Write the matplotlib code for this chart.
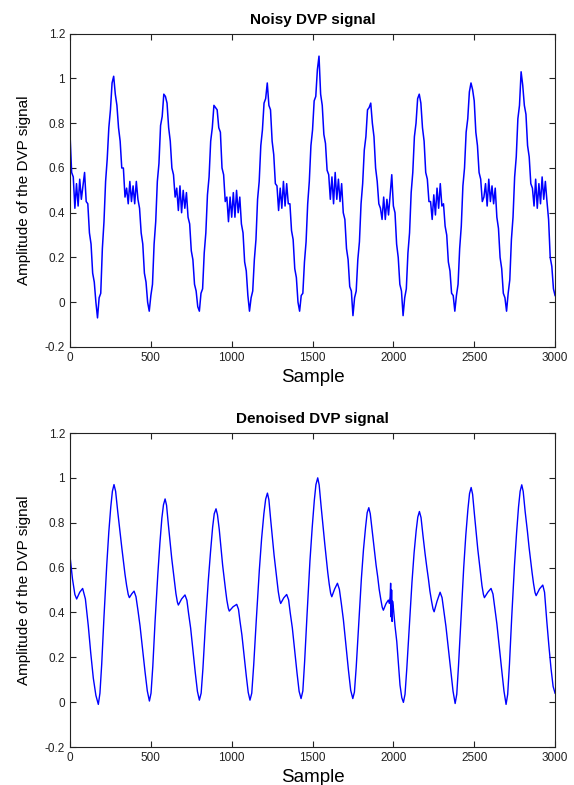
"""Noisy vs denoised DVP signal, two stacked panels."""

import matplotlib

matplotlib.use("Agg")
import matplotlib.pyplot as plt
import numpy as np

plt.rcParams["font.family"] = ["Liberation Sans", "DejaVu Sans"]

# noisy trace, read every 10 samples
noisy_sample = np.arange(0, 3001, 10)
noisy_amp = [
    0.75, 0.58, 0.56, 0.42, 0.53, 0.43, 0.55, 0.46, 0.52, 0.58,    # 0
    0.45, 0.44, 0.31, 0.26, 0.13, 0.09, 0.00, -0.07, 0.02, 0.04,   # 100
    0.24, 0.36, 0.54, 0.64, 0.78, 0.86, 0.98, 1.01, 0.93, 0.88,    # 200
    0.78, 0.72, 0.60, 0.60, 0.47, 0.51, 0.44, 0.54, 0.45, 0.52,    # 300
    0.44, 0.54, 0.46, 0.42, 0.31, 0.26, 0.13, 0.09, 0.00, -0.04,   # 400
    0.03, 0.08, 0.26, 0.36, 0.54, 0.62, 0.79, 0.83, 0.93, 0.92,    # 500
    0.89, 0.78, 0.72, 0.60, 0.57, 0.47, 0.51, 0.41, 0.52, 0.40,    # 600
    0.50, 0.42, 0.49, 0.38, 0.35, 0.23, 0.19, 0.08, 0.05, -0.02,   # 700
    -0.04, 0.04, 0.06, 0.22, 0.31, 0.48, 0.56, 0.72, 0.78, 0.88,   # 800
    0.87, 0.86, 0.78, 0.76, 0.60, 0.57, 0.45, 0.47, 0.36, 0.47,    # 900
    0.38, 0.49, 0.38, 0.50, 0.40, 0.47, 0.35, 0.31, 0.18, 0.14,    # 1000
    0.03, -0.04, 0.02, 0.05, 0.19, 0.28, 0.46, 0.54, 0.70, 0.77,   # 1100
    0.89, 0.91, 0.98, 0.88, 0.86, 0.72, 0.66, 0.53, 0.52, 0.41,    # 1200
    0.51, 0.42, 0.54, 0.43, 0.53, 0.44, 0.44, 0.32, 0.28, 0.15,    # 1300
    0.11, 0.00, -0.04, 0.03, 0.04, 0.18, 0.27, 0.44, 0.54, 0.70,   # 1400
    0.77, 0.90, 0.92, 1.04, 1.10, 0.93, 0.88, 0.75, 0.71, 0.59,    # 1500
    0.57, 0.46, 0.56, 0.44, 0.58, 0.46, 0.55, 0.45, 0.53, 0.40,    # 1600
    0.37, 0.24, 0.19, 0.07, 0.05, -0.06, 0.02, 0.05, 0.19, 0.27,   # 1700
    0.44, 0.53, 0.68, 0.74, 0.86, 0.87, 0.89, 0.80, 0.74, 0.60,    # 1800
    0.54, 0.44, 0.42, 0.37, 0.47, 0.37, 0.46, 0.39, 0.48, 0.57,    # 1900
    0.43, 0.40, 0.26, 0.20, 0.08, 0.05, -0.06, 0.02, 0.06, 0.22,   # 2000
    0.31, 0.49, 0.58, 0.74, 0.80, 0.91, 0.93, 0.89, 0.78, 0.72,    # 2100
    0.58, 0.55, 0.45, 0.45, 0.37, 0.48, 0.39, 0.51, 0.42, 0.53,    # 2200
    0.43, 0.44, 0.34, 0.30, 0.18, 0.14, 0.04, 0.03, -0.04, 0.03,   # 2300
    0.08, 0.24, 0.34, 0.52, 0.60, 0.76, 0.82, 0.94, 0.98, 0.95,    # 2400
    0.90, 0.76, 0.70, 0.58, 0.55, 0.45, 0.47, 0.53, 0.43, 0.55,    # 2500
    0.45, 0.52, 0.44, 0.51, 0.38, 0.33, 0.20, 0.15, 0.04, 0.02,    # 2600
    -0.04, 0.04, 0.10, 0.28, 0.38, 0.56, 0.65, 0.82, 0.88, 1.03,   # 2700
    0.97, 0.88, 0.84, 0.70, 0.65, 0.53, 0.51, 0.43, 0.55, 0.42,    # 2800
    0.53, 0.44, 0.56, 0.46, 0.54, 0.45, 0.37, 0.20, 0.16, 0.06,    # 2900
    0.03,                                                          # 3000
]

# denoised trace, (sample, amplitude)
denoised_points = [
    (0, 0.65), (15, 0.55), (30, 0.48), (41, 0.46), (60, 0.49), (78, 0.507),
    (95, 0.46), (113, 0.34), (128, 0.22), (144, 0.107), (160, 0.03),
    (175, -0.01), (185, 0.04), (196, 0.17), (210, 0.38), (227, 0.61),
    (240, 0.76), (252, 0.87), (262, 0.94), (272, 0.97), (282, 0.94),
    (295, 0.85), (309, 0.76), (320, 0.69), (330, 0.63), (340, 0.57),
    (350, 0.52), (360, 0.48), (367, 0.466), (382, 0.483), (396, 0.495),
    (408, 0.47), (420, 0.41), (433, 0.34), (448, 0.24), (464, 0.135),
    (478, 0.05),
    (491, 0.005), (501, 0.04), (512, 0.16), (526, 0.36), (543, 0.57),
    (556, 0.71), (568, 0.82), (578, 0.88), (588, 0.906), (597, 0.878),
    (608, 0.793), (620, 0.707), (629, 0.641), (638, 0.587), (647, 0.53),
    (655, 0.484), (664, 0.446), (670, 0.433), (690, 0.46), (711, 0.478),
    (723, 0.454), (733, 0.397), (746, 0.33), (760, 0.232), (775, 0.129),
    (788, 0.048),
    (800, 0.009), (811, 0.04), (822, 0.15), (837, 0.34), (855, 0.54),
    (869, 0.67), (882, 0.78), (892, 0.84), (903, 0.862), (912, 0.835),
    (923, 0.77), (935, 0.68), (944, 0.61), (953, 0.554), (962, 0.50),
    (970, 0.455), (979, 0.419), (985, 0.406), (1008, 0.425), (1031, 0.436),
    (1042, 0.414), (1051, 0.362), (1063, 0.30), (1076, 0.211), (1090, 0.118),
    (1102, 0.044),
    (1113, 0.009), (1124, 0.04), (1136, 0.165), (1152, 0.365), (1171, 0.59),
    (1185, 0.73), (1199, 0.84), (1210, 0.905), (1221, 0.932), (1230, 0.902),
    (1241, 0.814), (1253, 0.725), (1262, 0.656), (1271, 0.60), (1280, 0.541),
    (1288, 0.493), (1297, 0.454), (1303, 0.44), (1322, 0.465), (1340, 0.48),
    (1352, 0.456), (1362, 0.398), (1375, 0.331), (1389, 0.233), (1404, 0.13),
    (1417, 0.048),
    (1429, 0.016), (1440, 0.05), (1451, 0.18), (1466, 0.39), (1484, 0.63),
    (1498, 0.78), (1511, 0.90), (1521, 0.97), (1532, 1.0), (1541, 0.968),
    (1553, 0.873), (1566, 0.777), (1576, 0.703), (1585, 0.642), (1594, 0.579),
    (1603, 0.527), (1612, 0.485), (1619, 0.47), (1637, 0.505), (1654, 0.53),
    (1666, 0.503), (1678, 0.44), (1691, 0.366), (1706, 0.257), (1722, 0.143),
    (1736, 0.053),
    (1749, 0.016), (1759, 0.045), (1770, 0.155), (1785, 0.34), (1802, 0.55),
    (1815, 0.68), (1828, 0.78), (1838, 0.845), (1848, 0.867), (1857, 0.84),
    (1870, 0.757), (1883, 0.675), (1893, 0.611), (1903, 0.559), (1912, 0.504),
    (1922, 0.459), (1931, 0.423), (1938, 0.41), (1955, 0.44), (1969, 0.455),
    (1975, 0.44), (1980, 0.47), (1983, 0.53), (1986, 0.38), (1989, 0.50),
    (1992, 0.36), (1995, 0.45), (2000, 0.42), (2010, 0.34), (2021, 0.27),
    (2031, 0.17), (2041, 0.076), (2052, 0.02),
    (2062, -0.001), (2072, 0.035), (2083, 0.15), (2098, 0.33), (2115, 0.535),
    (2128, 0.665), (2141, 0.765), (2151, 0.825), (2161, 0.85), (2171, 0.823),
    (2183, 0.743), (2196, 0.662), (2207, 0.60), (2217, 0.548), (2226, 0.495),
    (2236, 0.451), (2245, 0.416), (2252, 0.403), (2270, 0.45), (2289, 0.49),
    (2301, 0.466), (2312, 0.407), (2325, 0.338), (2340, 0.238), (2356, 0.132),
    (2369, 0.049),
    (2382, -0.006), (2392, 0.035), (2403, 0.165), (2418, 0.37), (2435, 0.60),
    (2448, 0.745), (2461, 0.86), (2471, 0.93), (2481, 0.957), (2490, 0.927),
    (2501, 0.84), (2513, 0.751), (2522, 0.682), (2531, 0.626), (2540, 0.567),
    (2548, 0.519), (2557, 0.48), (2563, 0.466), (2584, 0.49), (2604, 0.507),
    (2616, 0.482), (2627, 0.42), (2640, 0.35), (2655, 0.246), (2671, 0.137),
    (2684, 0.05),
    (2697, -0.01), (2707, 0.035), (2718, 0.17), (2732, 0.38), (2749, 0.61),
    (2762, 0.755), (2774, 0.87), (2784, 0.94), (2794, 0.969), (2803, 0.939),
    (2815, 0.85), (2829, 0.762), (2839, 0.692), (2848, 0.636), (2858, 0.577),
    (2867, 0.528), (2876, 0.489), (2883, 0.475), (2904, 0.505), (2924, 0.522),
    (2935, 0.49), (2949, 0.36), (2962, 0.25), (2975, 0.15), (2988, 0.07),
    (3000, 0.04),
]

titles = ["Noisy DVP signal", "Denoised DVP signal"]
x_ticks = [0, 500, 1000, 1500, 2000, 2500, 3000]
y_ticks = [-0.2, 0, 0.2, 0.4, 0.6, 0.8, 1, 1.2]
y_tick_labels = ["-0.2", "0", "0.2", "0.4", "0.6", "0.8", "1", "1.2"]


def style_axes(ax, title):
    ax.set_xlim(0, 3000)
    ax.set_ylim(-0.2, 1.2)
    ax.set_xticks(x_ticks)
    ax.set_xticklabels([str(t) for t in x_ticks])
    ax.set_yticks(y_ticks)
    ax.set_yticklabels(y_tick_labels)
    ax.tick_params(direction="in", length=4, width=0.8, top=True, right=True,
                   labelsize=8.5, colors="#222222", pad=3.5)
    for sp in ax.spines.values():
        sp.set_color("#222222")
        sp.set_linewidth(0.8)
    ax.set_title(title, fontsize=11, fontweight="bold", pad=7)
    ax.set_xlabel("Sample", fontsize=13.5, labelpad=4)
    ax.set_ylabel("Amplitude of the DVP signal", fontsize=11, labelpad=10)


fig = plt.figure(figsize=(5.74, 7.85), dpi=100)
ax1 = fig.add_axes([0.122, 0.558, 0.845, 0.399])
ax2 = fig.add_axes([0.122, 0.0484, 0.845, 0.400])

ax1.plot(noisy_sample, noisy_amp, color="#0000ff", linewidth=1.1)
den_x, den_y = zip(*denoised_points)
ax2.plot(den_x, den_y, color="#0000ff", linewidth=1.0)

style_axes(ax1, titles[0])
style_axes(ax2, titles[1])

fig.savefig("out.png", dpi=100)
